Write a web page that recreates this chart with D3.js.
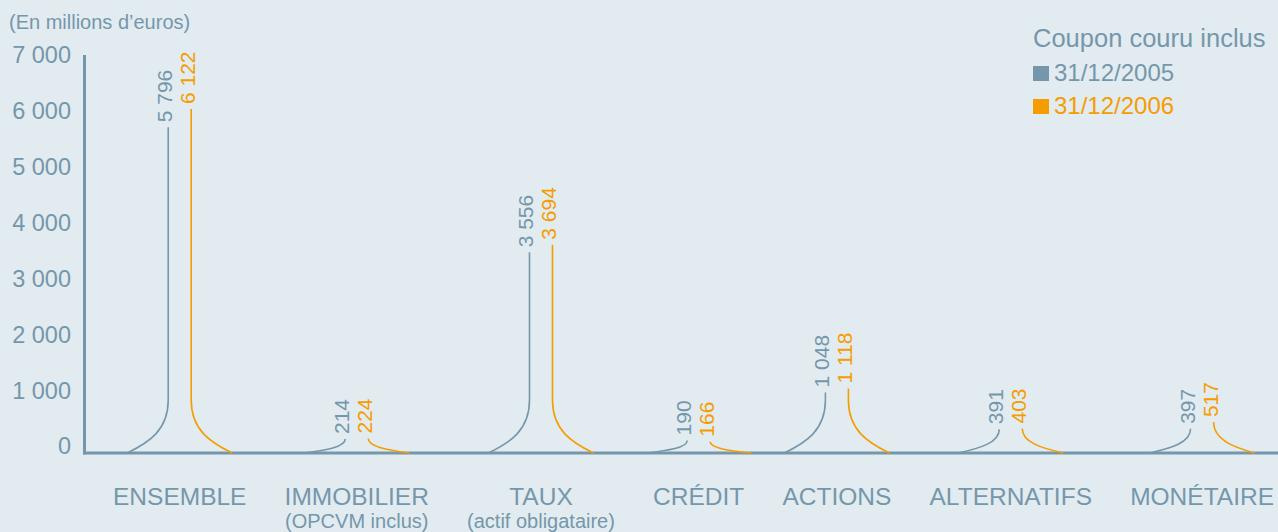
<!DOCTYPE html>
<html lang="fr">
<head>
<meta charset="UTF-8">
<title>Encours par classe d'actifs</title>
<script src="https://d3js.org/d3.v7.min.js"></script>
<style>
    body {
        margin: 0;
        background-color: #e2ebf0;
        overflow: hidden;
    }
    svg text {
        font-family: 'Liberation Sans', Arial, sans-serif;
    }
</style>
</head>
<body>
<div id="chart"></div>
<script>
// Data
const categories = ["ENSEMBLE", "IMMOBILIER", "TAUX", "CRÉDIT", "ACTIONS", "ALTERNATIFS", "MONÉTAIRE"];
const subLabels = ["", "(OPCVM inclus)", "(actif obligataire)", "", "", "", ""];
const values2005 = [5796, 214, 3556, 190, 1048, 391, 397];
const values2006 = [6122, 224, 3694, 166, 1118, 403, 517];
const yTicks = [0, 1000, 2000, 3000, 4000, 5000, 6000, 7000];
const seriesNames = ["31/12/2005", "31/12/2006"];

const width = 1278, height = 532;
const grey = "#7597ab";
const orange = "#f59d00";

// French number format: space as thousands separator
const fmt = v => d3.format(",")(v).replace(/,/g, " ");

const svg = d3.select("#chart").append("svg")
    .attr("width", width)
    .attr("height", height);

const y = d3.scaleLinear().domain([0, 7000]).range([451, 60]);
const base = 453;

const gap = 23;      // distance between the two vertical lines of a category
const curveW = 41;   // horizontal reach of the foot curve
const curveH = 53;   // height of the foot curve when the value is tall enough

// Category labels first: their widths drive the horizontal layout
const labelG = svg.append("g");
const mainLabels = labelG.selectAll("text.main")
    .data(categories)
    .join("text")
    .attr("class", "main")
    .attr("y", 505)
    .attr("text-anchor", "middle")
    .attr("fill", grey)
    .attr("font-size", 24.5)
    .text(d => d);
const secLabels = labelG.selectAll("text.sub")
    .data(categories)
    .join("text")
    .attr("class", "sub")
    .attr("y", 528)
    .attr("text-anchor", "middle")
    .attr("fill", grey)
    .attr("font-size", 20)
    .text((d, i) => subLabels[i]);

const widths = categories.map((d, i) => Math.max(
    mainLabels.nodes()[i].getComputedTextLength(),
    secLabels.nodes()[i].getComputedTextLength()));
const left = 113, right = 1274;
const spacing = (right - left - d3.sum(widths)) / (categories.length - 1);
const centers = [];
let cursor = left;
widths.forEach(w => { centers.push(cursor + w / 2); cursor += w + spacing; });

const x = d3.scaleOrdinal().domain(categories).range(centers);

mainLabels.attr("x", d => x(d));
secLabels.attr("x", d => x(d));

// Title
svg.append("text")
    .attr("x", 9).attr("y", 29)
    .attr("fill", grey)
    .attr("font-size", 20)
    .text("(En millions d\u2019euros)");

// Y tick labels
svg.append("g").selectAll("text")
    .data(yTicks)
    .join("text")
    .attr("x", 71)
    .attr("y", d => y(d) - 5)
    .attr("dy", "0.36em")
    .attr("text-anchor", "end")
    .attr("fill", grey)
    .attr("font-size", 23.5)
    .text(fmt);

// Axes lines
svg.append("line")
    .attr("x1", 84.5).attr("x2", 84.5)
    .attr("y1", y(7000) - 5).attr("y2", base + 1.5)
    .attr("stroke", grey).attr("stroke-width", 3);
svg.append("line")
    .attr("x1", 83).attr("x2", width)
    .attr("y1", base).attr("y2", base)
    .attr("stroke", grey).attr("stroke-width", 3);

// Path builder: side = -1 curve comes from the left (2005), +1 goes out to the right (2006)
function spike(lx, v, side) {
    const top = y(v);
    const h = Math.min(curveH, base - top);
    const p = d3.path();
    const x0 = lx + side * curveW;
    p.moveTo(x0, base);
    p.bezierCurveTo(
        lx + side * curveW * 0.47, base - h * 0.2,
        lx, base - h * 0.43,
        lx, base - h);
    if (top < base - h) p.lineTo(lx, top);
    return p.toString();
}

const groups = svg.append("g").selectAll("g")
    .data(categories)
    .join("g");

// 2005 series
groups.append("path")
    .attr("d", (d, i) => spike(x(d) - gap / 2, values2005[i], -1))
    .attr("fill", "none")
    .attr("stroke", grey)
    .attr("stroke-width", 1.6);

// 2006 series
groups.append("path")
    .attr("d", (d, i) => spike(x(d) + gap / 2, values2006[i], 1))
    .attr("fill", "none")
    .attr("stroke", orange)
    .attr("stroke-width", 1.6);

// Value labels (rotated)
groups.append("text")
    .attr("transform", (d, i) => `translate(${x(d) - gap / 2 + 4},${y(values2005[i]) - 5}) rotate(-90)`)
    .attr("fill", grey)
    .attr("font-size", 21)
    .text((d, i) => fmt(values2005[i]));

groups.append("text")
    .attr("transform", (d, i) => `translate(${x(d) + gap / 2 + 4},${y(values2006[i]) - 5}) rotate(-90)`)
    .attr("fill", orange)
    .attr("font-size", 21)
    .text((d, i) => fmt(values2006[i]));

// Legend
const legend = svg.append("g");
legend.append("text")
    .attr("x", 1033).attr("y", 47)
    .attr("fill", grey)
    .attr("font-size", 25.5)
    .text("Coupon couru inclus");

legend.selectAll("g.item")
    .data(seriesNames)
    .join("g")
    .attr("class", "item")
    .attr("transform", (d, i) => `translate(1033,${66 + i * 33})`)
    .each(function(d, i) {
        const c = i === 0 ? grey : orange;
        d3.select(this).append("rect")
            .attr("width", 16).attr("height", 15)
            .attr("fill", c);
        d3.select(this).append("text")
            .attr("x", 21).attr("y", 15)
            .attr("fill", c)
            .attr("font-size", 24)
            .text(d);
    });
</script>
</body>
</html>
